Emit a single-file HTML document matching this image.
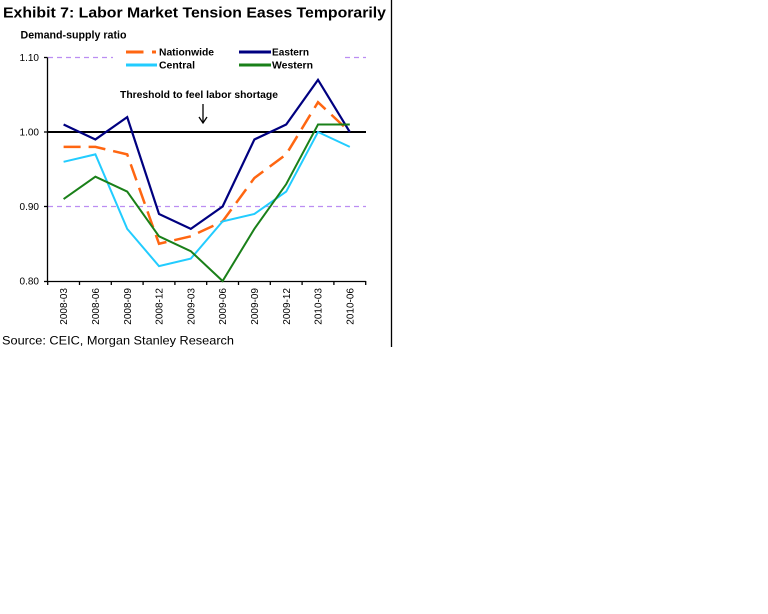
<!DOCTYPE html>
<html><head><meta charset="utf-8"><style>
html,body{margin:0;padding:0;background:#fff;}
svg{display:block;}
text{font-family:"Liberation Sans",Arial,sans-serif;fill:#000;}
</style></head><body>
<svg width="768" height="614" viewBox="0 0 768 614" xmlns="http://www.w3.org/2000/svg">
<rect width="768" height="614" fill="#fff"/>
<!-- right border -->
<line x1="391.5" y1="0" x2="391.5" y2="347" stroke="#000" stroke-width="1.3"/>
<!-- title -->
<text x="3" y="17.5" font-size="15" font-weight="bold" textLength="383" lengthAdjust="spacingAndGlyphs">Exhibit 7: Labor Market Tension Eases Temporarily</text>
<text x="20.5" y="38.5" font-size="11" font-weight="bold" textLength="106" lengthAdjust="spacingAndGlyphs">Demand-supply ratio</text>
<!-- gridlines -->
<line x1="48" y1="57.5" x2="366" y2="57.5" stroke="#bb8df2" stroke-width="1.2" stroke-dasharray="5 4"/>
<line x1="48" y1="206.5" x2="366" y2="206.5" stroke="#bb8df2" stroke-width="1.2" stroke-dasharray="5 4"/>
<!-- legend background -->
<rect x="113" y="44" width="231" height="28" fill="#fff"/>
<!-- y tick labels -->
<text x="39" y="61" font-size="10" text-anchor="end">1.10</text>
<text x="39" y="135.5" font-size="10" text-anchor="end">1.00</text>
<text x="39" y="210" font-size="10" text-anchor="end">0.90</text>
<text x="39" y="284.5" font-size="10" text-anchor="end">0.80</text>
<!-- axes -->
<g stroke="#000" stroke-width="1.3">
<line x1="47.5" y1="57.5" x2="47.5" y2="281.5"/>
<line x1="47" y1="281.5" x2="366" y2="281.5"/>
<line x1="44" y1="57.5" x2="47.5" y2="57.5"/>
<line x1="44" y1="132" x2="47.5" y2="132"/>
<line x1="44" y1="206.5" x2="47.5" y2="206.5"/>
<line x1="44" y1="281.5" x2="47.5" y2="281.5"/>
<line x1="47.7" y1="281" x2="47.7" y2="285"/>
<line x1="79.5" y1="281" x2="79.5" y2="285"/>
<line x1="111.3" y1="281" x2="111.3" y2="285"/>
<line x1="143.1" y1="281" x2="143.1" y2="285"/>
<line x1="174.9" y1="281" x2="174.9" y2="285"/>
<line x1="206.7" y1="281" x2="206.7" y2="285"/>
<line x1="238.5" y1="281" x2="238.5" y2="285"/>
<line x1="270.3" y1="281" x2="270.3" y2="285"/>
<line x1="302.1" y1="281" x2="302.1" y2="285"/>
<line x1="333.9" y1="281" x2="333.9" y2="285"/>
<line x1="365.7" y1="281" x2="365.7" y2="285"/>
</g>
<!-- x labels -->
<g font-size="10" text-anchor="end">
<text transform="translate(67.2,288) rotate(-90)">2008-03</text>
<text transform="translate(99,288) rotate(-90)">2008-06</text>
<text transform="translate(130.8,288) rotate(-90)">2008-09</text>
<text transform="translate(162.6,288) rotate(-90)">2008-12</text>
<text transform="translate(194.4,288) rotate(-90)">2009-03</text>
<text transform="translate(226.2,288) rotate(-90)">2009-06</text>
<text transform="translate(258,288) rotate(-90)">2009-09</text>
<text transform="translate(289.8,288) rotate(-90)">2009-12</text>
<text transform="translate(321.6,288) rotate(-90)">2010-03</text>
<text transform="translate(353.4,288) rotate(-90)">2010-06</text>
</g>
<!-- threshold line -->
<line x1="47" y1="132" x2="366" y2="132" stroke="#000" stroke-width="2"/>
<!-- series -->
<polyline fill="none" stroke="#ff6611" stroke-width="2.5" stroke-dasharray="17 8" points="63.6,146.9 95.4,146.9 127.2,154.35 159,243.75 190.8,236.3 222.6,221.4 254.4,178 286.2,154.35 318,102.2 349.8,132"/>
<polyline fill="none" stroke="#000080" stroke-width="2.2" stroke-linejoin="miter" points="63.6,124.55 95.4,139.45 127.2,117.1 159,213.95 190.8,228.85 222.6,206.5 254.4,139.45 286.2,124.55 318,79.85 349.8,132"/>
<polyline fill="none" stroke="#22ccff" stroke-width="2" points="63.6,161.8 95.4,154.35 127.2,228.85 159,266.1 190.8,258.65 222.6,221.4 254.4,213.95 286.2,191.6 318,132 349.8,146.9"/>
<polyline fill="none" stroke="#1a8019" stroke-width="2" points="63.6,199.05 95.4,176.7 127.2,191.6 159,236.3 190.8,251.2 222.6,281 254.4,228.85 286.2,184.15 318,124.55 349.8,124.55"/>
<!-- legend -->
<line x1="126" y1="52" x2="143.5" y2="52" stroke="#ff6611" stroke-width="3"/>
<line x1="152" y1="52" x2="156" y2="52" stroke="#ff6611" stroke-width="3"/>
<text x="159" y="55.5" font-size="10" font-weight="bold" textLength="55" lengthAdjust="spacingAndGlyphs">Nationwide</text>
<line x1="239" y1="52" x2="271" y2="52" stroke="#000080" stroke-width="3"/>
<text x="272" y="55.5" font-size="10" font-weight="bold" textLength="37" lengthAdjust="spacingAndGlyphs">Eastern</text>
<line x1="126" y1="65" x2="157" y2="65" stroke="#22ccff" stroke-width="3"/>
<text x="159" y="68.5" font-size="10" font-weight="bold" textLength="36" lengthAdjust="spacingAndGlyphs">Central</text>
<line x1="239" y1="65" x2="271" y2="65" stroke="#1a8019" stroke-width="3"/>
<text x="272" y="68.5" font-size="10" font-weight="bold" textLength="41" lengthAdjust="spacingAndGlyphs">Western</text>
<!-- threshold annotation -->
<text x="120" y="98" font-size="10" font-weight="bold" textLength="158" lengthAdjust="spacingAndGlyphs">Threshold to feel labor shortage</text>
<line x1="203" y1="104" x2="203" y2="123" stroke="#000" stroke-width="1.3"/>
<polyline points="199,117 203,123 207,117" fill="none" stroke="#000" stroke-width="1.3"/>
<!-- source -->
<text x="2" y="344.5" font-size="12" textLength="232" lengthAdjust="spacingAndGlyphs">Source: CEIC, Morgan Stanley Research</text>
</svg>
</body></html>
